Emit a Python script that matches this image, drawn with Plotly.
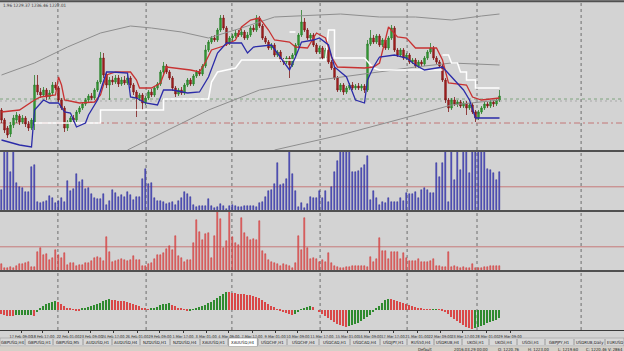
import plotly.graph_objects as go

W, H = 624, 351

# ---------------- data ----------------
opens = [1218,1208,1200,1194,1203,1208,1212,1206,1210,1204,1200,1206,1243,1236,1233,1238,1231,1235,1243,1240,
         1228,1220,1200,1206,1210,1208,1216,1220,1224,1228,1232,1230,1238,1246,1270,1253,1243,1248,1246,1250,
         1244,1248,1245,1250,1243,1236,1230,1233,1225,1230,1236,1233,1240,1244,1256,1262,1256,1250,1240,1234,
         1238,1235,1243,1248,1244,1252,1256,1254,1262,1278,1286,1290,1288,1298,1310,1300,1285,1290,1292,1295,
         1293,1296,1290,1293,1300,1298,1310,1302,1290,1286,1280,1283,1273,1276,1268,1266,1270,1263,1273,1283,
         1293,1306,1298,1290,1293,1283,1276,1280,1270,1278,1266,1260,1250,1238,1243,1236,1240,1243,1240,1242,
         1240,1242,1238,1284,1290,1286,1292,1283,1288,1280,1290,1300,1278,1273,1278,1270,1273,1266,1268,1262,
         1266,1264,1270,1276,1280,1270,1266,1262,1248,1228,1220,1228,1224,1226,1222,1225,1220,1223,1216,1210,
         1216,1220,1224,1222,1226,1224,1228]
highs = [1220,1210,1202,1206,1213,1216,1214,1213,1212,1207,1210,1253,1253,1240,1241,1240,1238,1246,1246,1242,
         1230,1222,1208,1212,1213,1218,1222,1226,1230,1234,1235,1240,1248,1276,1275,1256,1251,1252,1253,1253,
         1251,1252,1254,1252,1245,1238,1235,1235,1232,1238,1239,1242,1246,1258,1266,1264,1258,1252,1242,1240,
         1241,1245,1250,1250,1254,1258,1259,1264,1283,1288,1292,1293,1300,1313,1313,1302,1292,1294,1298,1298,
         1299,1298,1296,1302,1303,1313,1312,1304,1292,1288,1285,1285,1278,1278,1270,1272,1272,1275,1285,1295,
         1318,1310,1300,1295,1295,1285,1282,1282,1280,1280,1268,1262,1252,1245,1245,1242,1245,1246,1244,1245,
         1244,1244,1288,1298,1293,1294,1294,1290,1290,1292,1303,1302,1280,1280,1280,1275,1275,1270,1270,1268,
         1268,1272,1278,1285,1282,1272,1268,1264,1250,1230,1230,1231,1228,1228,1227,1227,1225,1225,1218,1218,
         1222,1226,1226,1228,1228,1230,1238]
lows = [1205,1195,1190,1191,1200,1205,1203,1204,1201,1197,1198,1198,1233,1230,1231,1228,1229,1233,1238,1226,
        1218,1196,1197,1204,1206,1206,1214,1218,1222,1226,1228,1228,1236,1244,1250,1240,1228,1243,1244,1241,
        1242,1243,1243,1240,1233,1211,1227,1218,1223,1228,1231,1231,1238,1242,1254,1254,1248,1237,1231,1232,
        1233,1233,1241,1242,1242,1250,1252,1252,1260,1276,1284,1286,1286,1296,1298,1282,1283,1287,1290,1291,
        1291,1288,1288,1291,1296,1296,1300,1288,1284,1278,1278,1271,1271,1266,1263,1264,1250,1261,1271,1281,
        1291,1296,1288,1288,1281,1274,1274,1268,1268,1264,1258,1248,1236,1236,1233,1234,1238,1238,1238,1238,
        1237,1235,1236,1282,1284,1284,1281,1281,1278,1278,1288,1276,1271,1271,1268,1268,1264,1264,1260,1260,
        1262,1262,1268,1274,1268,1264,1260,1246,1225,1216,1218,1222,1221,1220,1220,1213,1218,1214,1206,1208,
        1214,1218,1220,1220,1221,1222,1226]
closes = [1208,1198,1193,1203,1210,1213,1206,1210,1204,1200,1208,1243,1236,1233,1238,1231,1235,1243,1240,1228,
          1220,1200,1206,1210,1208,1216,1220,1224,1228,1232,1230,1238,1246,1270,1253,1243,1248,1246,1250,1244,
          1248,1245,1250,1243,1236,1230,1233,1225,1230,1236,1233,1240,1244,1256,1262,1256,1250,1240,1234,1238,
          1235,1243,1248,1244,1252,1256,1254,1262,1278,1286,1290,1288,1298,1310,1300,1285,1290,1292,1295,1293,
          1296,1290,1293,1300,1298,1310,1302,1290,1286,1280,1283,1273,1276,1268,1266,1270,1263,1273,1283,1293,
          1306,1298,1290,1293,1283,1276,1280,1270,1278,1266,1260,1250,1238,1243,1236,1240,1243,1240,1242,1240,
          1242,1238,1284,1290,1286,1292,1283,1288,1280,1290,1300,1278,1273,1278,1270,1273,1266,1268,1262,1266,
          1264,1270,1276,1280,1270,1266,1262,1248,1228,1220,1228,1224,1226,1222,1225,1220,1223,1216,1210,1216,
          1220,1224,1222,1226,1224,1228,1232]

red_x = [0,6,11,13,18,19,20,21,26,31,33,35,38,43,45,46,50,53,55,58,63,66,68,70,74,78,80,83,86,89,91,96,98,102,
         105,108,110,112,121,124,126,129,132,135,138,145,147,149,155,157,160,166]
red_y = [1216,1218,1228,1231,1233,1251,1243,1228,1225,1226,1233,1253,1256,1256,1248,1240,1240,1245,1261,1260,
         1258,1256,1266,1278,1282,1288,1301,1308,1310,1298,1288,1286,1281,1280,1295,1290,1271,1261,1260,1261,
         1265,1301,1291,1290,1280,1280,1268,1245,1243,1231,1228,1230]
blue_x = [0,6,10,11,14,16,19,21,23,25,28,29,32,35,37,42,43,45,48,52,54,57,62,66,69,72,75,80,82,84,90,92,96,98,
          100,104,106,109,111,115,118,121,122,124,126,131,135,138,141,147,150,154,156,158,166]
blue_y = [1188,1183,1181,1218,1228,1225,1225,1216,1215,1201,1205,1213,1228,1256,1256,1255,1231,1230,1225,1223,
          1238,1238,1235,1236,1251,1275,1285,1285,1275,1281,1283,1275,1258,1271,1286,1288,1290,1283,1261,1251,
          1228,1225,1248,1261,1271,1273,1270,1263,1258,1261,1251,1238,1228,1210,1210]
white_x = [11,33,33,54,54,69,70,72,75,78,80,108,109,111,111,121,124,126,147, None, 96,98, None,
           147,149,150,152,153,155,155,158,158,166]
white_y = [1205,1205,1218,1218,1229,1229,1246,1256,1258,1260,1268,1268,1298,1298,1270,1270,1260,1258,1258, None,
           1296,1296, None, 1273,1273,1265,1265,1256,1256,1248,1248,1240,1240]
gray1_x = [0,11,22,33,43,50,60,69,80,91,113,126,138,150,160,166]
gray1_y = [1253,1265,1281,1295,1302,1300,1296,1290,1300,1311,1314,1311,1311,1308,1312,1314]
gray2_x = [42,69,86,106,138,150,166]
gray2_y = [1178,1218,1238,1248,1261,1265,1263]
gray3_x = [91,113,138,150,166]
gray3_y = [1178,1193,1213,1223,1228]

bid_level = 1229
ask_level = 1227
stop_level = 1205

blue_hist = [20,60,60,38,60,27,23,22,18,18,43,45,8,7,8,9,14,12,7,9,12,8,29,19,21,36,28,30,21,22,
             16,12,11,11,16,5,9,20,17,13,15,13,18,15,10,13,13,31,41,26,27,12,9,9,8,6,7,8,5,9,
             12,18,16,13,5,3,4,4,4,11,4,2,3,6,4,1,4,5,4,3,3,4,4,4,4,3,
             7,8,13,19,20,26,47,25,26,31,60,36,19,3,7,2,6,13,12,12,19,12,19,8,23,38,49,60,60,60,
             60,38,38,39,42,45,54,10,19,12,5,8,7,12,8,8,8,12,9,17,16,16,18,12,20,22,20,17,17,47,
             33,47,60,8,60,30,60,40,60,60,37,60,60,60,60,60,41,40,37,30,38]
red_hist = [6,2,2,3,2,4,6,6,7,8,3,3,18,22,15,16,10,12,20,15,12,17,5,7,7,4,5,5,7,7,
            9,12,13,12,9,33,18,8,9,10,11,10,9,10,14,10,10,4,4,6,7,11,15,15,17,21,24,20,34,14,
            12,8,10,10,27,50,38,30,36,37,12,34,60,51,22,29,60,33,27,25,52,37,33,30,31,30,
            49,19,16,10,8,7,6,4,6,5,4,2,7,34,20,52,22,11,12,11,8,10,8,17,7,4,3,2,2,3,
            3,4,4,4,4,4,3,13,8,11,32,19,19,11,18,18,18,11,17,12,9,9,9,11,8,8,8,9,11,4,
            4,3,3,18,3,4,3,2,3,2,2,6,2,2,2,3,3,4,4,4,4]
osc = [-4,-5,-6,-6,-6.5,-5.8,-5.6,-5.4,-5.3,-5.2,-5.0,-6.5,
       -2,1,4,6,7,8,8.5,8,6,4,2,1,0.3,-0.8,-1.0,
       1,2,3,4,5,6,7,8.5,9.5,10.5,
       10,9.5,9,8.7,8.5,8,7,6,5,3.5,2,1,0.2,
       0.6,2,3,4.5,5.5,6,6.3,
       5,3.5,2,1,-0.5,-1,
       -0.6,0.5,1.5,2.5,3.5,5,6.5,8,10,12,14,16,18,
       17.5,17,16.5,16,15.5,15.2,15,14.8,14,13,12,10,8,6,4,2.5,0.5,-1,-2,-3,-4,-5,
       -4,-2,0.5,2,3,3.5,
       2.5,0,-2,-4,-6,-8,-10,-12,-14,-15,-16,-17,
       -16,-15,-14,-13,-11,-9,-7,-5,-2,1,4,7,10,11,
       10.5,10,9,8,7,6,5,4,2.5,1.5,0.8,0.3,-0.2,-0.4,
       0.3,0.5,
       0.2,-1,-2.5,-4.5,-7,-9,-11,-13,-15,-17,-18.5,-19,
       -18.5,-17,-16,-15,-13.5,-12,-11,-10,-8.5]
hist_level = 23

time_labels = ["17 Feb 09:00","18 Feb 17:00","22 Feb 01:00","23 Feb 09:00","24 Feb 17:00","26 Feb 01:00",
               "29 Feb 09:00","1 Mar 17:00","3 Mar 01:00","4 Mar 09:00","7 Mar 17:00","9 Mar 01:00",
               "10 Mar 09:00","11 Mar 17:00","15 Mar 01:00","16 Mar 09:00","17 Mar 17:00","21 Mar 01:00",
               "22 Mar 09:00","23 Mar 17:00","28 Mar 01:00","29 Mar 09:00"]
time_pos = [6.5,13.8,22.2,29.8,37.2,45.2,52.8,60.5,68.2,75.8,83.5,91.2,98.8,106.8,115.2,122.8,130.5,138.5,
            146.2,153.8,161.8,169.5]
grid_x = [18.8,48.2,76.8,106.2,135.2,158.5,193.2]

tabs = ["GBPUSD,H4","GBPUSD,H1","GBPUSD,M5","AUDUSD,H1","AUDUSD,H4","NZDUSD,H1","NZDUSD,H4","XAUUSD,H1",
        "XAUUSD,H4","USDCHF,H1","USDCHF,H4","USDCAD,H1","USDCAD,H4","USDJPY,H1","RUS50,H4","USDRUB,H4",
        "UKOil,H1","UKOil,H4","USOil,H1","GBPJPY,H1","USDRUB,Daily","EURUSD"]
tab_edges = [0,25,53,83,112,140,170,200,228,258,287,319,350,380,407,434,462,489,517,545,574,605,624]
active_tab = 8

status_texts = ["Default","2016.03.29 00:00","O: 1220.76","H: 1223.00","L: 1219.60","C: 1220.46","V: 2864"]
status_x = [416,452,496,526,556,584,606]
header_text = "1.96 1229.37 1236.46 1222.01"

# ---------------- figure ----------------
idx = list(range(len(closes)))
def py(px):
    return 1 - px / H
def pxx(px):
    return px / W

BG = "#d3d3d3"
FONT = "Liberation Sans Narrow, DejaVu Sans Condensed, Liberation Sans, sans-serif"

fig = go.Figure()
for gx, gy in [(gray1_x, gray1_y), (gray2_x, gray2_y), (gray3_x, gray3_y)]:
    fig.add_trace(go.Scatter(x=gx, y=gy, mode="lines", line=dict(color="#8e8e8e", width=1),
                             xaxis="x", yaxis="y", hoverinfo="skip"))
fig.add_trace(go.Candlestick(x=idx, open=opens, high=highs, low=lows, close=closes,
                             increasing=dict(line=dict(color="#2a7f2a", width=0.8), fillcolor="#39a339"),
                             decreasing=dict(line=dict(color="#7e1818", width=0.8), fillcolor="#b32020"),
                             whiskerwidth=0, xaxis="x", yaxis="y"))
fig.add_trace(go.Scatter(x=white_x, y=white_y, mode="lines", line=dict(color="#ffffff", width=1.5),
                         xaxis="x", yaxis="y", connectgaps=False))
fig.add_trace(go.Scatter(x=red_x, y=red_y, mode="lines", line=dict(color="#c83232", width=1.3),
                         xaxis="x", yaxis="y"))
fig.add_trace(go.Scatter(x=blue_x, y=blue_y, mode="lines", line=dict(color="#2b2ba8", width=1.3),
                         xaxis="x", yaxis="y"))

fig.add_trace(go.Bar(x=idx, y=blue_hist, width=0.58, xaxis="x2", yaxis="y2",
                     marker=dict(color="#5a5ad6", line=dict(color="#1e1e88", width=0.5))))
fig.add_trace(go.Bar(x=idx, y=red_hist, width=0.58, xaxis="x3", yaxis="y3",
                     marker=dict(color="#f07a7a", line=dict(color="#c42020", width=0.5))))
osc_colors = ["#d94848" if i == 0 or v <= osc[i - 1] else "#2f8a2f" for i, v in enumerate(osc)]
fig.add_trace(go.Bar(x=idx, y=osc, width=0.52, xaxis="x4", yaxis="y4",
                     marker=dict(color=osc_colors, line=dict(width=0))))

XR = [-0.5, 207.5]
hidden = dict(visible=False, showgrid=False, zeroline=False)
fig.update_layout(
    width=W, height=H, margin=dict(l=0, r=0, t=0, b=0),
    paper_bgcolor=BG, plot_bgcolor="rgba(0,0,0,0)", showlegend=False, bargap=0,
    xaxis=dict(domain=[0, 1], range=XR, anchor="y", rangeslider=dict(visible=False), **hidden),
    xaxis2=dict(domain=[0, 1], range=XR, anchor="y2", matches="x", **hidden),
    xaxis3=dict(domain=[0, 1], range=XR, anchor="y3", matches="x", **hidden),
    xaxis4=dict(domain=[0, 1], range=XR, anchor="y4", matches="x", visible=True, showgrid=False,
                zeroline=False, showline=True, linecolor="#3a3a3a", linewidth=1,
                tickvals=time_pos, ticktext=time_labels, tickangle=0, ticks="outside", ticklen=2,
                tickcolor="#3a3a3a", tickfont=dict(family=FONT, size=3.9, color="#1e1e1e")),
    yaxis=dict(domain=[py(150), py(3)], range=[1178, 1325], **hidden),
    yaxis2=dict(domain=[py(210), py(152)], range=[0, 57.5], **hidden),
    yaxis3=dict(domain=[py(270), py(212)], range=[0, 57.5], **hidden),
    yaxis4=dict(domain=[py(330), py(272)], range=[-20.5, 37.5], **hidden),
)

shapes = []
for gx in grid_x:
    shapes.append(dict(type="line", xref="x", yref="paper", x0=gx, x1=gx, y0=py(330), y1=py(3),
                       line=dict(color="#6e6e6e", width=1, dash="dot"), layer="below"))
shapes.append(dict(type="line", xref="paper", yref="y", x0=0, x1=1, y0=bid_level, y1=bid_level,
                   line=dict(color="#6a9a6a", width=0.8, dash="3px,3px"), layer="below"))
shapes.append(dict(type="line", xref="paper", yref="y", x0=0, x1=1, y0=ask_level, y1=ask_level,
                   line=dict(color="#9a9a9a", width=0.7, dash="2px,3px"), layer="below"))
shapes.append(dict(type="line", xref="paper", yref="y", x0=0, x1=1, y0=stop_level, y1=stop_level,
                   line=dict(color="#c06060", width=0.8, dash="6px,3px,2px,3px"), layer="below"))
for yr in ["y2", "y3"]:
    shapes.append(dict(type="line", xref="paper", yref=yr, x0=0, x1=1, y0=hist_level, y1=hist_level,
                       line=dict(color="#c77a7a", width=1), layer="below"))
# panel separators
for sy in [1.2, 151, 211, 271]:
    shapes.append(dict(type="line", xref="paper", yref="paper", x0=0, x1=1, y0=py(sy), y1=py(sy),
                       line=dict(color="#505050", width=2)))
# tab bar
shapes.append(dict(type="rect", xref="paper", yref="paper", x0=0, x1=1, y0=py(346), y1=py(338),
                   fillcolor="#d8d8d8", line=dict(color="#9a9a9a", width=0.6)))
for k, e in enumerate(tab_edges[1:-1]):
    shapes.append(dict(type="line", xref="paper", yref="paper", x0=pxx(e), x1=pxx(e), y0=py(345),
                       y1=py(339), line=dict(color="#8a8a8a", width=0.8)))
shapes.append(dict(type="rect", xref="paper", yref="paper", x0=pxx(tab_edges[active_tab]) + 0.001,
                   x1=pxx(tab_edges[active_tab + 1]) - 0.001, y0=py(346.5), y1=py(338),
                   fillcolor="#ffffff", line=dict(color="#7a7a7a", width=0.6)))
# status bar
shapes.append(dict(type="rect", xref="paper", yref="paper", x0=0, x1=1, y0=0, y1=py(346.5),
                   fillcolor="#d4d0c8", line=dict(width=0)))
fig.update_layout(shapes=shapes)

ann = []
ann.append(dict(text=header_text, x=pxx(1), y=py(5.5), xref="paper", yref="paper", xanchor="left",
                yanchor="middle", showarrow=False, font=dict(family=FONT, size=4.5, color="#3a3a3a")))
for k, name in enumerate(tabs):
    cx = (tab_edges[k] + tab_edges[k + 1]) / 2
    ann.append(dict(text=name, x=pxx(cx), y=py(342.2), xref="paper", yref="paper", xanchor="center",
                    yanchor="middle", showarrow=False,
                    font=dict(family=FONT, size=4.3, color="#222222")))
for t, sx in zip(status_texts, status_x):
    ann.append(dict(text=t, x=pxx(sx), y=py(349.5), xref="paper", yref="paper", xanchor="left",
                    yanchor="middle", showarrow=False, font=dict(family=FONT, size=4.2, color="#222222")))
fig.update_layout(annotations=ann)

fig.write_html("out.html")
